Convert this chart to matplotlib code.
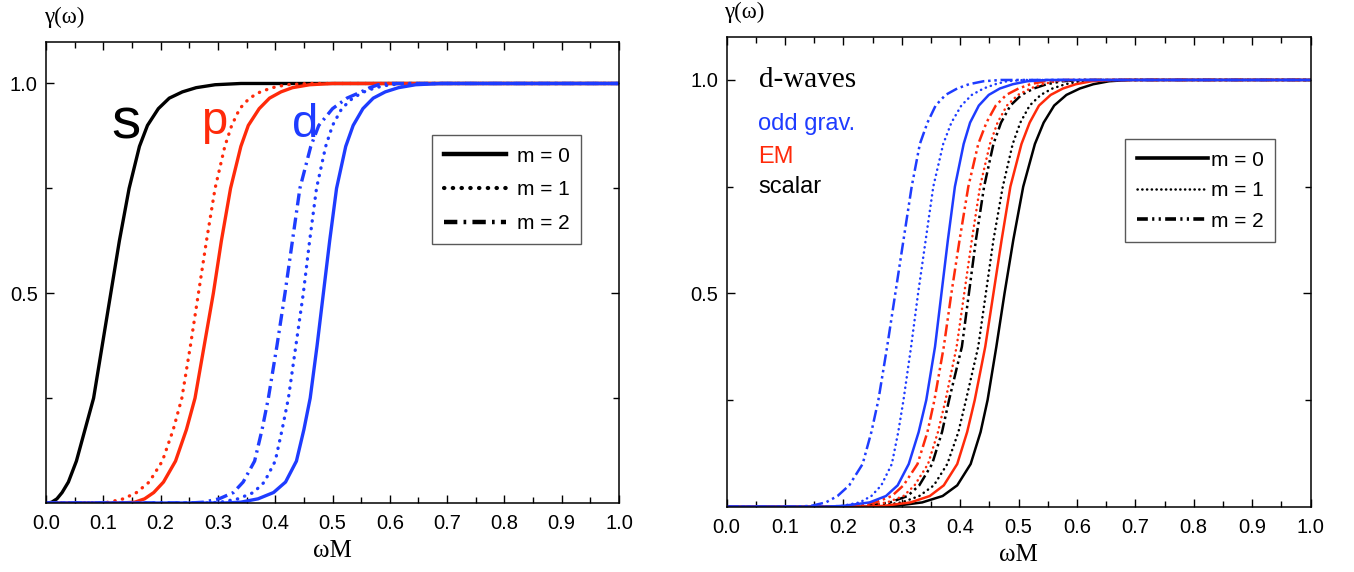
import matplotlib
matplotlib.use("Agg")
import matplotlib.pyplot as plt
from matplotlib.lines import Line2D
from matplotlib.ticker import MultipleLocator, FixedLocator

plt.rcParams['font.family'] = ['Liberation Sans', 'DejaVu Sans']

RED = '#ff2a0a'
BLUE = '#1e3cff'

gam = [0, 0, 0.002, 0.01, 0.025, 0.05, 0.1, 0.175, 0.25, 0.375, 0.5, 0.625, 0.75,
       0.85, 0.9, 0.94, 0.965, 0.98, 0.99, 0.997, 1.0, 1.0]

# left panel: s, p, d waves (omega*M at each gamma level)
s_m0 = [0, 0.004, 0.01, 0.019, 0.028, 0.039, 0.053, 0.068, 0.083, 0.098, 0.113, 0.128, 0.145,
        0.163, 0.177, 0.196, 0.215, 0.238, 0.262, 0.295, 0.34, 1.0]
p_m0 = [0, 0.13, 0.155, 0.172, 0.188, 0.205, 0.226, 0.245, 0.26, 0.276, 0.292, 0.306, 0.322,
        0.34, 0.353, 0.372, 0.39, 0.41, 0.43, 0.46, 0.50, 1.0]
p_m1 = [0, 0.09, 0.11, 0.135, 0.158, 0.18, 0.203, 0.222, 0.237, 0.252, 0.266, 0.28, 0.295,
        0.312, 0.324, 0.338, 0.355, 0.374, 0.395, 0.42, 0.46, 1.0]
d_m0 = [0, 0.31, 0.34, 0.37, 0.397, 0.418, 0.437, 0.45, 0.461, 0.473, 0.484, 0.495, 0.507,
        0.523, 0.536, 0.553, 0.571, 0.592, 0.615, 0.645, 0.69, 1.0]
d_m1 = [0, 0.28, 0.305, 0.335, 0.362, 0.381, 0.40, 0.412, 0.423, 0.436, 0.449, 0.46, 0.472,
        0.488, 0.50, 0.516, 0.535, 0.555, 0.575, 0.60, 0.64, 1.0]
d_m2 = [0, 0.25, 0.275, 0.302, 0.327, 0.344, 0.364, 0.377, 0.388, 0.403, 0.417, 0.43, 0.443,
        0.462, 0.476, 0.50, 0.525, 0.55, 0.565, 0.58, 0.60, 1.0]

# right panel: d-waves for odd gravitational, EM and scalar perturbations
odd_m0 = [0, 0.17, 0.2, 0.245, 0.273, 0.293, 0.312, 0.329, 0.342, 0.357, 0.368, 0.379, 0.391,
          0.406, 0.417, 0.432, 0.449, 0.468, 0.49, 0.515, 0.55, 1.0]
odd_m1 = [0, 0.17, 0.198, 0.228, 0.248, 0.265, 0.283, 0.294, 0.303, 0.316, 0.328, 0.341, 0.354,
          0.371, 0.385, 0.402, 0.42, 0.44, 0.46, 0.48, 0.51, 1.0]
odd_m2 = [0, 0.12, 0.145, 0.17, 0.19, 0.21, 0.233, 0.248, 0.26, 0.275, 0.289, 0.303, 0.317,
          0.331, 0.344, 0.358, 0.375, 0.395, 0.415, 0.44, 0.47, 1.0]
em_m0 = [0, 0.24, 0.27, 0.315, 0.348, 0.372, 0.395, 0.412, 0.425, 0.443, 0.457, 0.471, 0.486,
         0.505, 0.519, 0.535, 0.555, 0.576, 0.598, 0.625, 0.66, 1.0]
em_m1 = [0, 0.21, 0.235, 0.275, 0.303, 0.322, 0.345, 0.362, 0.375, 0.394, 0.407, 0.42, 0.434,
         0.451, 0.464, 0.48, 0.499, 0.52, 0.54, 0.565, 0.60, 1.0]
em_m2 = [0, 0.19, 0.22, 0.255, 0.283, 0.303, 0.327, 0.344, 0.356, 0.372, 0.385, 0.399, 0.414,
         0.431, 0.445, 0.461, 0.479, 0.50, 0.52, 0.545, 0.58, 1.0]
sc_m0 = [0, 0.26, 0.29, 0.335, 0.37, 0.395, 0.418, 0.435, 0.447, 0.462, 0.476, 0.491, 0.508,
         0.528, 0.543, 0.561, 0.582, 0.605, 0.628, 0.655, 0.69, 1.0]
sc_m1 = [0, 0.23, 0.26, 0.30, 0.33, 0.355, 0.378, 0.397, 0.41, 0.431, 0.444, 0.457, 0.473,
         0.49, 0.503, 0.519, 0.538, 0.558, 0.58, 0.605, 0.64, 1.0]
sc_m2 = [0, 0.21, 0.24, 0.28, 0.31, 0.33, 0.352, 0.369, 0.381, 0.403, 0.415, 0.427, 0.441,
         0.457, 0.47, 0.486, 0.505, 0.526, 0.548, 0.575, 0.61, 1.0]

xticks = [0.0, 0.1, 0.2, 0.3, 0.4, 0.5, 0.6, 0.7, 0.8, 0.9, 1.0]
yticks = [0.5, 1.0]
legend_labels = ['m = 0', 'm = 1', 'm = 2']

fig = plt.figure(figsize=(13.54, 5.72), dpi=100)
ax1 = fig.add_axes([0.034, 0.1206, 0.4232, 0.8068])
ax2 = fig.add_axes([0.5366, 0.1142, 0.4313, 0.8206])

serif = ['Liberation Serif', 'DejaVu Serif']

def style(ax):
    ax.set_xlim(0, 1.0)
    ax.set_ylim(0, 1.1)
    ax.xaxis.set_major_locator(FixedLocator(xticks))
    ax.xaxis.set_minor_locator(MultipleLocator(0.05))
    ax.yaxis.set_major_locator(FixedLocator(yticks))
    ax.yaxis.set_minor_locator(FixedLocator([0.25, 0.75]))
    ax.set_xticklabels(['%.1f' % t for t in xticks])
    ax.set_yticklabels(['%.1f' % t for t in yticks])
    ax.tick_params(which='both', direction='in', top=True, right=True, width=1.0,
                   labelsize=14.5)
    ax.tick_params(which='major', length=6)
    ax.tick_params(which='minor', length=4)
    ax.tick_params(axis='x', pad=8)
    ax.tick_params(axis='y', pad=6)
    for sp in ax.spines.values():
        sp.set_linewidth(1.1)
    ax.set_xlabel('ωM', family=serif, fontsize=18, labelpad=5)
    ax.text(0.031, 1.052, 'γ(ω)', transform=ax.transAxes, family=serif,
            fontsize=16.5, ha='center', va='center')

# ---- left panel ----
lw = 2.4
dot1 = (0, (0.1, 2.2))
dash1 = (0, (3.6, 1.5, 0.7, 1.5))
ax1.plot(s_m0, gam, color='black', lw=lw)
ax1.plot(p_m1, gam, color=RED, lw=lw, ls=dot1, dash_capstyle='round')
ax1.plot(p_m0, gam, color=RED, lw=lw)
ax1.plot(d_m2, gam, color=BLUE, lw=lw, ls=dash1)
ax1.plot(d_m1, gam, color=BLUE, lw=lw, ls=dot1, dash_capstyle='round')
ax1.plot(d_m0, gam, color=BLUE, lw=lw)
style(ax1)

ax1.text(0.14, 0.868, 's', fontsize=42, color='black', ha='center', va='baseline')
ax1.text(0.293, 0.88, 'p', fontsize=34, color=RED, ha='center', va='baseline')
ax1.text(0.452, 0.872, 'd', fontsize=34, color=BLUE, ha='center', va='baseline')

h1 = [Line2D([], [], color='black', lw=3.2),
      Line2D([], [], color='black', lw=3.0, ls=(0, (0.1, 2.0)), dash_capstyle='round'),
      Line2D([], [], color='black', lw=3.2, ls=(0, (3.0, 1.4, 0.6, 1.4)))]
leg1 = ax1.legend(h1, legend_labels, loc='upper left', bbox_to_anchor=(0.674, 0.797),
                  fontsize=15, handlelength=3.0, handletextpad=0.5, labelspacing=0.7,
                  borderpad=0.55, borderaxespad=0, fancybox=False, framealpha=1)
leg1.get_frame().set_edgecolor('0.35')
leg1.get_frame().set_linewidth(1.0)

# ---- right panel ----
lw2 = 1.8
dot2 = (0, (0.1, 2.0))
dash2 = (0, (4.8, 1.5, 1.0, 1.5, 1.0, 1.5))
ax2.plot(sc_m2, gam, color='black', lw=lw2, ls=dash2)
ax2.plot(sc_m1, gam, color='black', lw=lw2, ls=dot2, dash_capstyle='round')
ax2.plot(sc_m0, gam, color='black', lw=lw2)
ax2.plot(em_m2, gam, color=RED, lw=lw2, ls=dash2)
ax2.plot(em_m1, gam, color=RED, lw=lw2, ls=dot2, dash_capstyle='round')
ax2.plot(em_m0, gam, color=RED, lw=lw2)
ax2.plot(odd_m2, gam, color=BLUE, lw=lw2, ls=dash2)
ax2.plot(odd_m1, gam, color=BLUE, lw=lw2, ls=dot2, dash_capstyle='round')
ax2.plot(odd_m0, gam, color=BLUE, lw=lw2)
style(ax2)

ax2.text(0.055, 0.984, 'd-waves', family=serif, fontsize=21, ha='left', va='baseline')
ax2.text(0.054, 0.883, 'odd grav.', fontsize=17, color=BLUE, ha='left', va='baseline')
ax2.text(0.054, 0.805, 'EM', fontsize=17, color=RED, ha='left', va='baseline')
ax2.text(0.054, 0.735, 'scalar', fontsize=17, color='black', ha='left', va='baseline')

h2 = [Line2D([], [], color='black', lw=2.6),
      Line2D([], [], color='black', lw=1.8, ls=(0, (0.1, 1.8)), dash_capstyle='round'),
      Line2D([], [], color='black', lw=2.6, ls=(0, (3.0, 1.2, 0.6, 1.2, 0.6, 1.2)))]
leg2 = ax2.legend(h2, legend_labels, loc='upper left', bbox_to_anchor=(0.683, 0.783),
                  fontsize=15, handlelength=3.4, handletextpad=0.15, labelspacing=0.55,
                  borderpad=0.55, borderaxespad=0, fancybox=False, framealpha=1)
leg2.get_frame().set_edgecolor('0.35')
leg2.get_frame().set_linewidth(1.0)

fig.savefig('out.png', dpi=100)
